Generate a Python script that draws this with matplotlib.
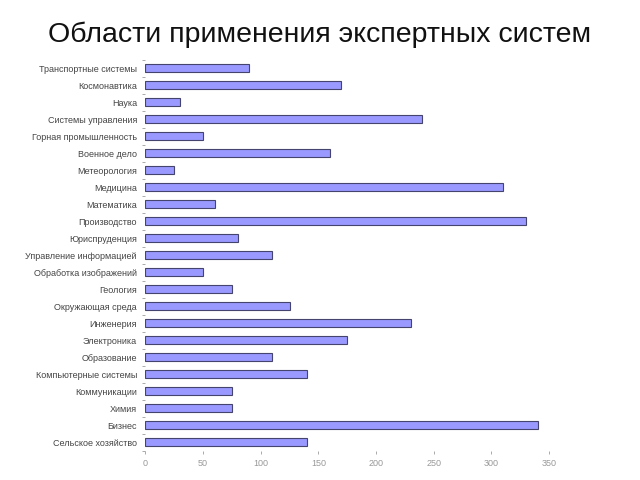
import matplotlib
matplotlib.use("Agg")
import matplotlib.pyplot as plt
import numpy as np

categories = ["Транспортные системы", "Космонавтика", "Наука", "Системы управления",
              "Горная промышленность", "Военное дело", "Метеорология", "Медицина",
              "Математика", "Производство", "Юриспруденция", "Управление информацией",
              "Обработка изображений", "Геология", "Окружающая среда", "Инженерия",
              "Электроника", "Образование", "Компьютерные системы", "Коммуникации",
              "Химия", "Бизнес", "Сельское хозяйство"]
values = [90, 170, 30, 240, 50, 160, 25, 310, 60, 330, 80, 110, 50, 75, 125, 230,
          175, 110, 140, 75, 75, 340, 140]
xticks = [0, 50, 100, 150, 200, 250, 300, 350]

plt.rcParams['font.family'] = ['Liberation Sans', 'DejaVu Sans']
fig = plt.figure(figsize=(6.4, 4.8), dpi=100)
ax = fig.add_axes([0.227, 0.061, 0.631, 0.815])
y = np.arange(len(categories))
ax.barh(y, values, height=0.5, color='#9999ff', edgecolor='#44446e', linewidth=0.8)
ax.set_ylim(len(categories) - 0.5, -0.5)
ax.set_xlim(0, 350)
ax.set_yticks(y)
ax.set_yticklabels(categories, fontsize=6.5, color='#444444')
ax.set_yticks(np.arange(-0.5, len(categories), 1), minor=True)
ax.tick_params(axis='y', which='major', length=0, pad=6)
ax.tick_params(axis='y', which='minor', length=2, color='#888888', width=0.5)
ax.set_xticks(xticks)
ax.set_xticklabels([str(t) for t in xticks], fontsize=6.5, color='#999999')
ax.tick_params(axis='x', length=2, color='#888888', width=0.5, pad=4)
for s in ax.spines.values():
    s.set_visible(False)
fig.text(0.5, 0.927, "Области применения экспертных систем", ha='center', va='center',
         fontsize=20.5, color='#111111')
fig.savefig("out.png", dpi=100)
